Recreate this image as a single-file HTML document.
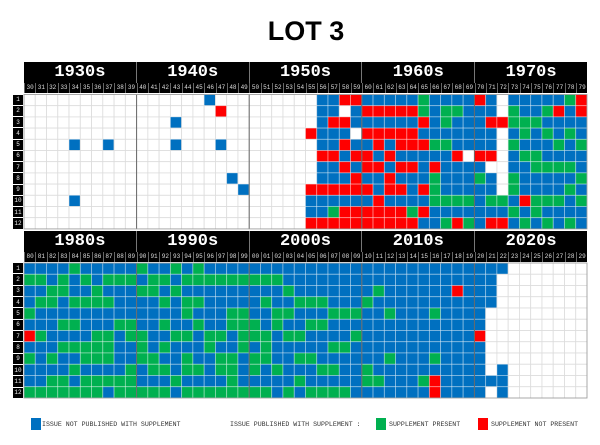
<!DOCTYPE html>
<html><head><meta charset="utf-8"><style>
body{margin:0;width:600px;height:445px;background:#fff;position:relative;overflow:hidden;font-family:"Liberation Sans",sans-serif}
.abs{position:absolute}
.title{left:0;width:612px;top:16px;text-align:center;font-weight:bold;font-size:27px;color:#000}
.hdr{left:24px;width:563px;display:flex;background:#000}
.hdr div{flex:1;color:#fff;font-family:"Liberation Mono",monospace;font-weight:bold;font-size:17px;text-align:center;border-left:1px solid #777;line-height:21px}
.hdr div:first-child{border-left:none}
.yrs{left:24px;width:563px;display:flex;background:#000;height:10px}
.yrs span{flex:1;color:#ddd;font-family:"Liberation Mono",monospace;font-size:6px;line-height:10px;text-align:center;border-left:1px solid #666;box-sizing:border-box}
.mon{left:13px;width:10px;display:flex;flex-direction:column}
.mon span{flex:1;background:#000;color:#eee;font-family:"Liberation Mono",monospace;font-size:6px;text-align:center;margin-bottom:1px;display:flex;align-items:center;justify-content:center}
.leg{font-family:"Liberation Mono",monospace;font-size:6.6px;color:#333;top:421px;white-space:nowrap}
.sq{width:10px;height:12px;top:418px}
</style></head><body>
<div class="abs title">LOT 3</div>
<svg id="s" class="abs" style="left:0;top:0" width="600" height="445"></svg>

<div class="abs hdr" style="top:62px;height:21px"><div>1930s</div><div>1940s</div><div>1950s</div><div>1960s</div><div>1970s</div></div>
<div class="abs yrs" style="top:83px"><span>30</span><span>31</span><span>32</span><span>33</span><span>34</span><span>35</span><span>36</span><span>37</span><span>38</span><span>39</span><span>40</span><span>41</span><span>42</span><span>43</span><span>44</span><span>45</span><span>46</span><span>47</span><span>48</span><span>49</span><span>50</span><span>51</span><span>52</span><span>53</span><span>54</span><span>55</span><span>56</span><span>57</span><span>58</span><span>59</span><span>60</span><span>61</span><span>62</span><span>63</span><span>64</span><span>65</span><span>66</span><span>67</span><span>68</span><span>69</span><span>70</span><span>71</span><span>72</span><span>73</span><span>74</span><span>75</span><span>76</span><span>77</span><span>78</span><span>79</span></div>
<div class="abs mon" style="top:94.5px;height:135px"><span>1</span><span>2</span><span>3</span><span>4</span><span>5</span><span>6</span><span>7</span><span>8</span><span>9</span><span>10</span><span>11</span><span>12</span></div>

<div class="abs hdr" style="top:231px;height:21px"><div>1980s</div><div>1990s</div><div>2000s</div><div>2010s</div><div>2020s</div></div>
<div class="abs yrs" style="top:252px"><span>80</span><span>81</span><span>82</span><span>83</span><span>84</span><span>85</span><span>86</span><span>87</span><span>88</span><span>89</span><span>90</span><span>91</span><span>92</span><span>93</span><span>94</span><span>95</span><span>96</span><span>97</span><span>98</span><span>99</span><span>00</span><span>01</span><span>02</span><span>03</span><span>04</span><span>05</span><span>06</span><span>07</span><span>08</span><span>09</span><span>10</span><span>11</span><span>12</span><span>13</span><span>14</span><span>15</span><span>16</span><span>17</span><span>18</span><span>19</span><span>20</span><span>21</span><span>22</span><span>23</span><span>24</span><span>25</span><span>26</span><span>27</span><span>28</span><span>29</span></div>
<div class="abs mon" style="top:263px;height:136px"><span>1</span><span>2</span><span>3</span><span>4</span><span>5</span><span>6</span><span>7</span><span>8</span><span>9</span><span>10</span><span>11</span><span>12</span></div>

<div class="abs sq" style="left:31px;background:#0070C0"></div>
<div class="abs leg" style="left:42px">ISSUE NOT PUBLISHED WITH SUPPLEMENT</div>
<div class="abs leg" style="left:230px">ISSUE PUBLISHED WITH SUPPLEMENT :</div>
<div class="abs sq" style="left:376px;background:#00B050"></div>
<div class="abs leg" style="left:389px">SUPPLEMENT PRESENT</div>
<div class="abs sq" style="left:478px;background:#FF0000"></div>
<div class="abs leg" style="left:491px">SUPPLEMENT NOT PRESENT</div>

<script>
(function(){
var topRows=[
"................B........"+"WBBRRBBBBBGBBBBRBWBBBBBGR",
".................R......."+"WBBWBRRRRRGBGGBBBWGBBGRBR",
".............B..........."+"WBRRBBBBBBRBGBBBRRGGGBBBB",
"........................."+"RBBBWRRRRRBBBBBBBWBGBGBGB",
"....B..B.....B...B......."+"WBBRBBRBRRRGGBBBBWGBBBGBG",
"........................."+"WRRBRRBRBBBBBRWRRWBGGBBBB",
"........................."+"WBBRBRRBRRBRBBBBWWBBGGGGB",
"..................B......"+"WBBBRBBRBBBGBBBGBWGBBBBBG",
"...................B....."+"RRRRRRBRRBRGBBBBBWGBBBBGB",
"....B...................."+"BBBBBBRBBBBGGGGBGGBRGGGBG",
"........................."+"BBGRRRRRRGRBBBBBBBGBGBBBB",
"........................."+"RRRRRRRRRRBBGRGBRRBGBGBGB"];
var botRows=[
"BBBBGBBBBB"+"GBBGBGBBBB"+"BBBBBBBBBB"+"BBBBBBBBBB"+"BBB.......",
"GGBGBGBGGG"+"BGGBGGGGGG"+"GGGBBBBBBB"+"BBBBBBBBBB"+"BB........",
"BBGGBBGBBB"+"GGBGBBBBBB"+"BBBGBBBBBB"+"BGBBBBBBRB"+"BB........",
"BGGBGGGGBB"+"BBGBGGBBBB"+"BGBBGGGBBB"+"GBBBBBBBBB"+"BB........",
"GBBBBBBBBB"+"BBBBGBBBGG"+"BBGGBBBGGG"+"BBGBBBGBBB"+"B.........",
"BBBGGBBBGG"+"BBGBBGBBGG"+"GBGBBGGBBB"+"BBBBBBBBBB"+"B.........",
"RGBBBBGGBG"+"GBBGGBGGBG"+"GGBGGBBBBG"+"BBBBBBBBBB"+"R.........",
"BBBGGGGGBB"+"GBGBBBGBBG"+"BGBBBBBGGB"+"BBBBBBBBBB"+"B.........",
"GBGBBGGGBB"+"GGBBGBBGGB"+"GGBBGGBBBB"+"BBGBBBGBBB"+"B.........",
"BBBBGBBBBG"+"BGGBGGBGGB"+"GBGBBBGGBB"+"GBBBBBBBBB"+"B.B.......",
"BBGGBGGGGG"+"BBBGBBBBGB"+"BBBBGBBBBB"+"GGBBBGRBBB"+"BBB.......",
"GGGGGGGBGG"+"GGGBGGGGGG"+"GGBGBGGGGB"+"BBBBBBRBBB"+"B.B......."];
var col={B:"#0070C0",G:"#00B050",R:"#FF0000"};
var s=document.getElementById("s"),ns="http://www.w3.org/2000/svg",cw=563/50;
function el(t,a){var e=document.createElementNS(ns,t);for(var k in a)e.setAttribute(k,a[k]);s.appendChild(e);}
function block(rows,y0,rh){
 for(var r=0;r<12;r++)for(var c=0;c<50;c++){
  var ch=rows[r].charAt(c),f=col[ch];
  el("rect",{x:24+c*cw,y:y0+r*rh,width:cw,height:rh,fill:f||"#fff",stroke:f?"rgba(255,255,255,0.45)":"#dcdcdc","stroke-width":0.8});
 }
 for(var d=1;d<5;d++)el("line",{x1:24+d*cw*10,x2:24+d*cw*10,y1:y0,y2:y0+12*rh,stroke:"#666","stroke-width":1});
 el("rect",{x:24,y:y0,width:563,height:12*rh,fill:"none",stroke:"#999","stroke-width":0.8});
}
block(topRows,94.5,11.2);
block(botRows,263,11.25);
})();
</script>
</body></html>
